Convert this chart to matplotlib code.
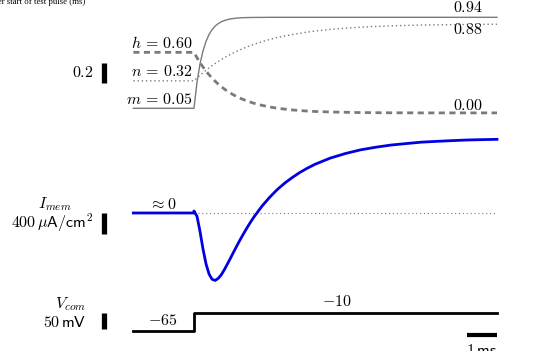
import matplotlib
matplotlib.use("Agg")
import matplotlib.pyplot as plt

# time (ms) relative to start of test pulse; pre-pulse at t < 0
t_pre = [-2.0, 0.0]
t_post = [0.0, 0.1, 0.2, 0.3, 0.4, 0.5, 0.6, 0.7, 0.8, 0.9, 1.0,
          1.1, 1.2, 1.3, 1.4, 1.5, 1.6, 1.7, 1.8, 1.9, 2.0,
          2.25, 2.5, 2.75, 3.0, 3.25, 3.5, 3.75, 4.0,
          4.5, 5.0, 5.5, 6.0, 6.5, 7.0, 7.5, 8.0, 8.5, 9.0, 9.5, 10.0]

# gating variables
m_post = [0.050, 0.304, 0.486, 0.616, 0.709, 0.776, 0.824, 0.858, 0.882, 0.900, 0.912,
          0.921, 0.928, 0.932, 0.936, 0.938, 0.940, 0.941, 0.942, 0.942, 0.943,
          0.943, 0.944, 0.944, 0.944, 0.944, 0.944, 0.944, 0.944,
          0.944, 0.944, 0.944, 0.944, 0.944, 0.944, 0.944, 0.944, 0.944, 0.944, 0.944, 0.944]
n_post = [0.320, 0.348, 0.375, 0.400, 0.425, 0.448, 0.469, 0.490, 0.510, 0.528, 0.546,
          0.563, 0.579, 0.594, 0.608, 0.622, 0.635, 0.647, 0.659, 0.670, 0.681,
          0.705, 0.726, 0.745, 0.761, 0.775, 0.788, 0.799, 0.809,
          0.825, 0.837, 0.847, 0.854, 0.860, 0.864, 0.868, 0.870, 0.872, 0.874, 0.875, 0.876]
h_post = [0.600, 0.547, 0.499, 0.455, 0.415, 0.379, 0.346, 0.316, 0.288, 0.263, 0.240,
          0.219, 0.200, 0.183, 0.167, 0.153, 0.140, 0.128, 0.117, 0.107, 0.098,
          0.079, 0.063, 0.051, 0.042, 0.034, 0.028, 0.023, 0.019,
          0.014, 0.011, 0.008, 0.007, 0.006, 0.006, 0.005, 0.005, 0.005, 0.005, 0.005, 0.005]

# membrane current (uA/cm^2)
i_pre = [0.0, 0.0]
i_post = [38, -62, -351, -691, -973, -1165, -1264, -1285, -1246, -1179, -1083,
          -976, -867, -754, -643, -535, -432, -332, -236, -145, -60,
          134, 300, 447, 571, 678, 774, 856, 929,
          1046, 1133, 1203, 1253, 1294, 1322, 1349, 1364, 1378, 1390, 1397, 1403]

# command voltage (mV)
t_v = [-2.0, 0.0, 0.0, 10.0]
v_com = [-65, -65, -10, -10]

gray = "#7a7a7a"
plt.rcParams["mathtext.fontset"] = "cm"
fs = 11.5

fig = plt.figure(figsize=(5.37, 3.51), dpi=100)
W, H = 537.0, 351.0
xlim = (-6.40, 11.32)

def make_ax(top_px, bot_px, ylim):
    ax = fig.add_axes([0, 1 - bot_px / H, 1, (bot_px - top_px) / H])
    ax.set_xlim(*xlim)
    ax.set_ylim(*ylim)
    ax.axis("off")
    return ax

ax1 = make_ax(0, 130, (-0.163, 1.114))
ax2 = make_ax(125, 290, (-1467, 1676))
ax3 = make_ax(290, 351, (-128, 61.5))

# --- gating variables
t_all = t_pre + t_post
m_all = [m_post[0]] * 2 + m_post
n_all = [n_post[0]] * 2 + n_post
h_all = [h_post[0]] * 2 + h_post
ax1.plot(t_all, m_all, color=gray, lw=1.0, clip_on=False)
ax1.plot(t_all, n_all, color=gray, lw=1.0, ls=(0, (1, 2)), clip_on=False)
ax1.plot(t_all, h_all, color=gray, lw=2.0, ls=(0, (2.2, 1.6)), clip_on=False)

ax1.text(-0.05, h_all[0] + 0.09, r"$h\,=\,%.2f$" % h_all[0], ha="right", va="center", fontsize=fs)
ax1.text(-0.05, n_all[0] + 0.09, r"$n\,=\,%.2f$" % n_all[0], ha="right", va="center", fontsize=fs)
ax1.text(-0.05, m_all[0] + 0.085, r"$m\,=\,%.2f$" % m_all[0], ha="right", va="center", fontsize=fs)
ax1.text(9.03, m_all[-1] + 0.10, r"$%.2f$" % m_all[-1], ha="center", va="center", fontsize=fs)
ax1.text(9.03, n_all[-1] - 0.05, r"$%.2f$" % n_all[-1], ha="center", va="center", fontsize=fs)
ax1.text(9.03, h_all[-1] + 0.068, r"$%.2f$" % 0.0, ha="center", va="center", fontsize=fs)

# scale bar 0.2
ax1.plot([-2.98, -2.98], [0.30, 0.50], color="black", lw=3.8, solid_capstyle="butt")
ax1.text(-3.33, 0.40, r"$0.2$", ha="right", va="center", fontsize=fs)

# --- membrane current
ax2.plot([0, 10], [0, 0], color=gray, lw=0.8, ls=(0, (1, 2.5)))
ax2.plot(t_pre + t_post, i_pre + i_post, color="#0000e0", lw=2.0, clip_on=False)
ax2.text(-1.02, 171, r"$\approx 0$", ha="center", va="center", fontsize=fs)
ax2.plot([-2.98, -2.98], [-400, 0], color="black", lw=3.8, solid_capstyle="butt")
ax2.text(-4.58, 171, r"$I_{mem}$", ha="center", va="center", fontsize=fs)
ax2.text(-3.33, -190, r"$400\,\mu\mathsf{A/cm}^2$", ha="right", va="center", fontsize=fs)

# --- command voltage
ax3.plot(t_v, v_com, color="black", lw=2.0, clip_on=False)
ax3.text(-1.02, -34, r"$%d$" % v_com[0], ha="center", va="center", fontsize=fs)
ax3.text(4.72, 25, r"$%d$" % v_com[-1], ha="center", va="center", fontsize=fs)
ax3.text(-4.06, 18, r"$V_{com}$", ha="center", va="center", fontsize=fs)
ax3.plot([-2.98, -2.98], [-60, -10], color="black", lw=3.8, solid_capstyle="butt")
ax3.text(-3.56, -40, r"$50\,\mathsf{mV}$", ha="right", va="center", fontsize=fs)

# time scale bar
ax3.plot([9, 10], [-78, -78], color="black", lw=3.0, solid_capstyle="butt")
ax3.text(9.5, -104, r"$1\,\mathsf{ms}$", ha="center", va="top", fontsize=fs)

fig.text(85 / W, 1 - 1.5 / H, "Time after start of test pulse (ms)", ha="right",
         va="center", fontsize=6.3, family="Liberation Serif")

fig.savefig("out.png", dpi=100)
